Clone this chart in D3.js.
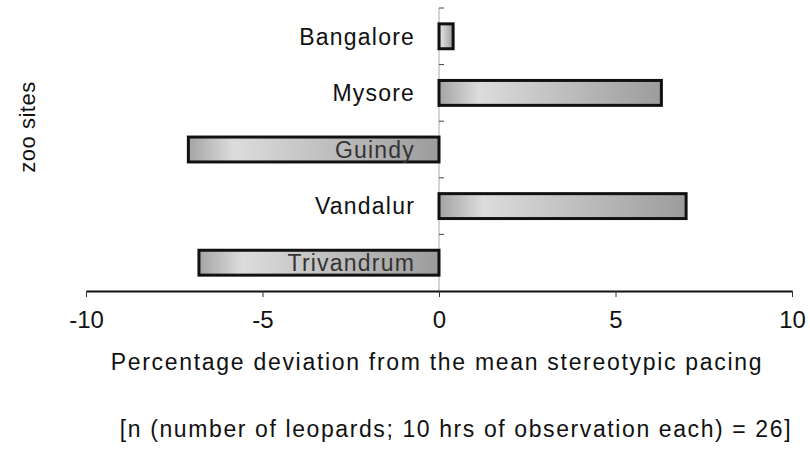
<!DOCTYPE html>
<html>
<head>
    <meta charset="utf-8">
    <script src="https://d3js.org/d3.v7.min.js"></script>
    <style>
        body { margin: 0; background: #fff; }
        text { font-family: "Liberation Sans", Arial, sans-serif; fill: #111; }
    </style>
</head>
<body>
    <svg width="810" height="453"></svg>
    <script>
        // zoo sites, top to bottom
        const sites = ["Bangalore", "Mysore", "Guindy", "Vandalur", "Trivandrum"];
        // percentage deviation from mean stereotypic pacing
        const deviation = [0.4, 6.3, -7.1, 7.0, -6.8];
        const xTicks = [-10, -5, 0, 5, 10];

        const svg = d3.select("svg");

        const x = d3.scaleLinear().domain([-10, 10]).range([86, 792]);
        const y = d3.scaleBand().domain(sites).range([8, 291]).paddingInner(0.56).paddingOuter(0.28);

        // gradient for the bars
        const defs = svg.append("defs");
        const grad = defs.append("linearGradient").attr("id", "barGrad")
            .attr("x1", "0%").attr("x2", "100%");
        grad.append("stop").attr("offset", "0%").attr("stop-color", "#a4a4a4");
        grad.append("stop").attr("offset", "18%").attr("stop-color", "#dcdcdc");
        grad.append("stop").attr("offset", "100%").attr("stop-color", "#9c9c9c");

        // vertical axis at zero with small ticks between categories
        const x0 = x(0);
        svg.append("line")
            .attr("x1", x0).attr("x2", x0)
            .attr("y1", 8).attr("y2", 291)
            .attr("stroke", "#aaa").attr("stroke-width", 1);
        const step = y.step();
        const bounds = d3.range(sites.length).map(i => y(sites[i]) - y.paddingInner() * step / 2);
        svg.append("g").selectAll("line")
            .data(bounds)
            .enter()
            .append("line")
            .attr("x1", x0).attr("x2", x0 + 5)
            .attr("y1", d => d).attr("y2", d => d)
            .attr("stroke", "#444");

        // bars
        svg.append("g").selectAll("rect")
            .data(sites)
            .enter()
            .append("rect")
            .attr("x", (d, i) => x(Math.min(0, deviation[i])))
            .attr("y", d => y(d))
            .attr("width", (d, i) => Math.abs(x(deviation[i]) - x0))
            .attr("height", y.bandwidth())
            .attr("fill", "url(#barGrad)")
            .attr("stroke", "#111")
            .attr("stroke-width", 3);

        // site labels, just left of zero
        svg.append("g").selectAll("text")
            .data(sites)
            .enter()
            .append("text")
            .attr("x", x0 - 24)
            .attr("y", d => y(d) + y.bandwidth() / 2)
            .attr("dy", "0.36em")
            .attr("text-anchor", "end")
            .style("font-size", "23px")
            .style("letter-spacing", "1.2px")
            .style("fill", (d, i) => deviation[i] < 0 ? "#333" : "#111")
            .text(d => d);

        // x axis
        const axisY = 291;
        const xAxis = svg.append("g")
            .attr("transform", `translate(0,${axisY})`)
            .call(d3.axisBottom(x).tickValues(xTicks).tickFormat(d => String(d))
                .tickSize(6).tickSizeOuter(0).tickPadding(14));
        xAxis.select(".domain").attr("stroke", "#111").attr("stroke-width", 2);
        xAxis.selectAll(".tick line").attr("stroke", "#333");
        xAxis.selectAll(".tick text")
            .style("font-size", "24px")
            .style("font-family", "'Liberation Sans', Arial, sans-serif")
            .attr("fill", "#111");

        // titles
        svg.append("text")
            .attr("x", 437).attr("y", 370)
            .attr("text-anchor", "middle")
            .style("font-size", "23px")
            .style("letter-spacing", "1.7px")
            .text("Percentage deviation from the mean stereotypic pacing");

        svg.append("text")
            .attr("x", 456).attr("y", 437)
            .attr("text-anchor", "middle")
            .style("font-size", "23px")
            .style("letter-spacing", "1.6px")
            .text("[n (number of leopards; 10 hrs of observation each) = 26]");

        svg.append("text")
            .attr("transform", "translate(35,127) rotate(-90)")
            .attr("text-anchor", "middle")
            .style("font-size", "22px")
            .style("letter-spacing", "0.5px")
            .text("zoo sites");
    </script>
</body>
</html>
